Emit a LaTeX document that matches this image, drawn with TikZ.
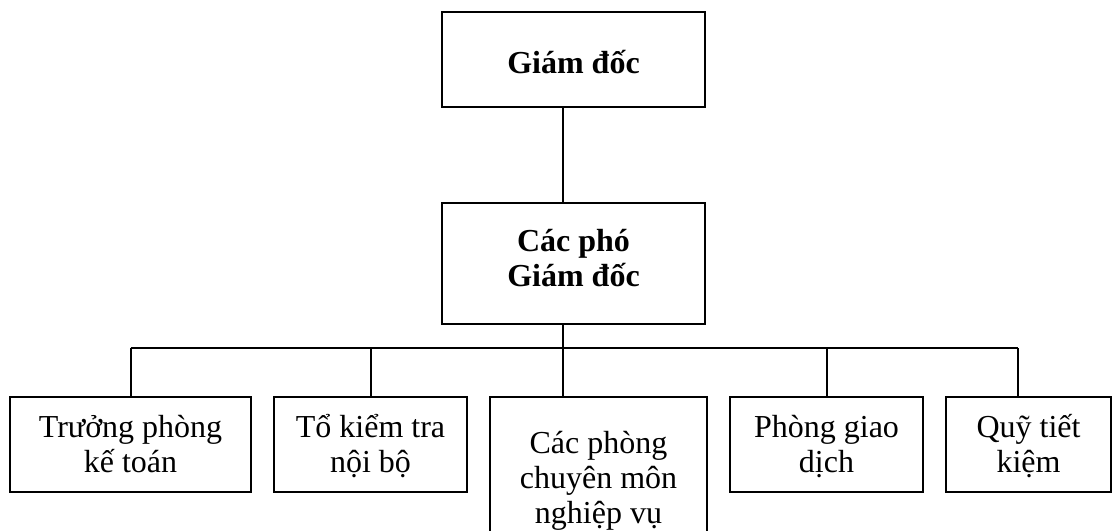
\documentclass[tikz,border=0pt]{standalone}
\usepackage{fontspec}
\setmainfont{Liberation Serif}
\newcommand{\tst}{\rule{0pt}{1.1em}}
\newcommand{\bst}{\rule[-0.45em]{0pt}{0pt}}
\begin{document}
\begin{tikzpicture}[x=0.75pt,y=-0.75pt,
  box/.style 2 args={draw, line width=1.5pt, minimum width=#1*0.75pt, minimum height=#2*0.75pt,
    inner sep=0pt, align=center, font=\fontsize{24}{26.25}\selectfont},
  boldtxt/.style={font=\fontsize{24}{26.25}\selectfont\bfseries},
  link/.style={line width=1.5pt}]
\clip (0,0) rectangle (1114,531);
\fill[white] (0,0) rectangle (1114,531);
\node[box={263}{95}, boldtxt] (gd) at (573.5,59.5) {\rule{0pt}{1.2em}Giám đốc\rule[-0.3em]{0pt}{0pt}};
\node[box={263}{121}, boldtxt] (pgd) at (573.5,263.5) {\rule{0pt}{1.2em}Các phó\\Giám đốc\rule[-0.86em]{0pt}{0pt}};
\node[box={241}{95}] (kt) at (130.5,444.5) {\tst Trưởng phòng\\kế toán\bst};
\node[box={193}{95}] (kiem) at (370.5,444.5) {\tst Tổ kiểm tra\\nội bộ\bst};
\node[box={217}{162}] (cm) at (598.5,478) {\tst Các phòng\\chuyên môn\\nghiệp vụ\bst};
\node[box={193}{95}] (gdch) at (826.5,444.5) {\tst Phòng giao\\dịch\bst};
\node[box={165}{95}] (quy) at (1028.5,444.5) {\tst Quỹ tiết\\kiệm\bst};
\coordinate (j) at (563,348);
\coordinate (jl) at (130.5,348);
\coordinate (jr) at (1018,348);
\draw[link] (gd.south -| j) -- (pgd.north -| j);
\draw[link] (pgd.south -| j) -- (j);
\draw[link] (jl) -- (jr);
\draw[link] (jl) -- (kt.north);
\draw[link] (kiem.north |- j) -- (kiem.north);
\draw[link] (j) -- (cm.north -| j);
\draw[link] (gdch.north |- j) -- (gdch.north);
\draw[link] (jr) -- (quy.north -| jr);
\end{tikzpicture}
\end{document}
